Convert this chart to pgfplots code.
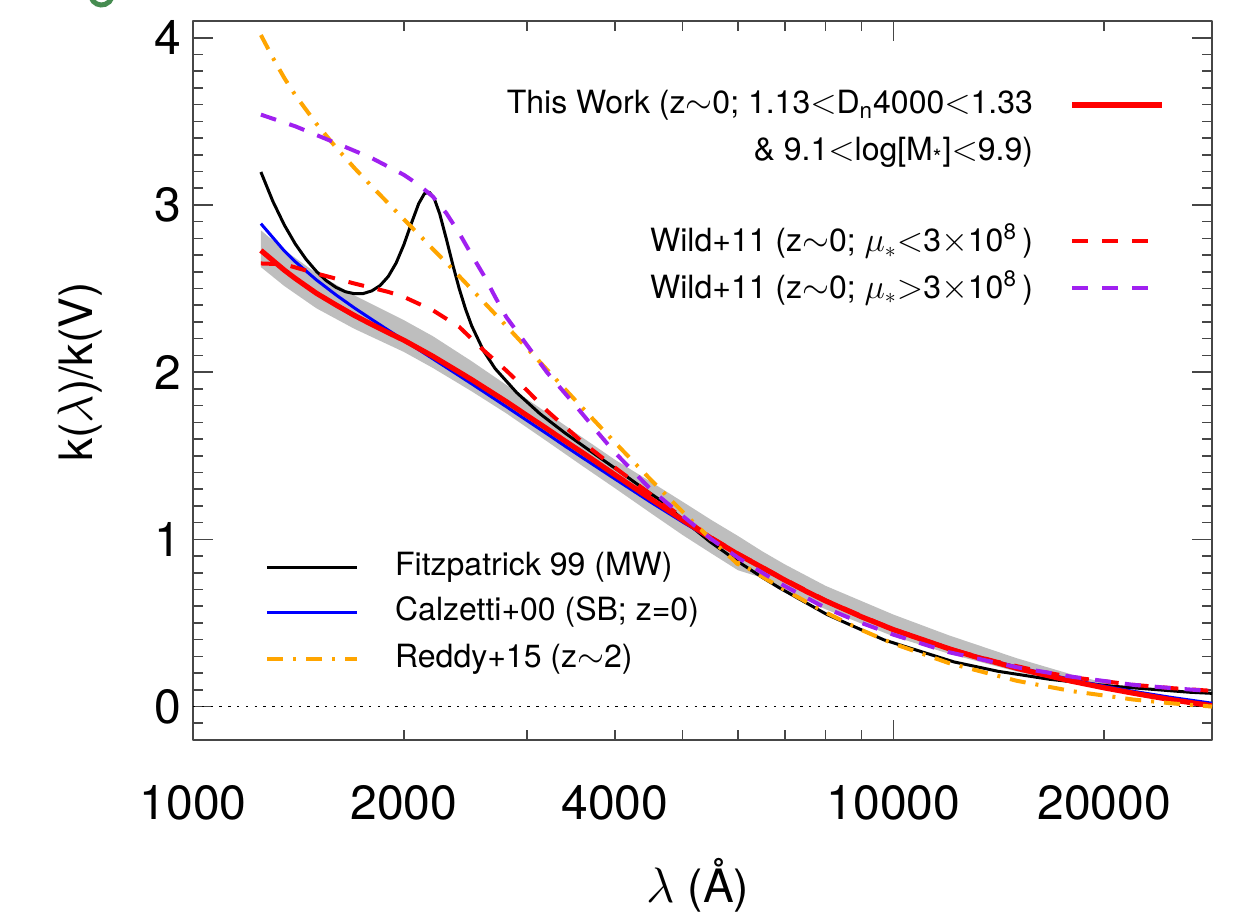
\documentclass[border=0pt]{standalone}
\usepackage{fontspec}
\setmainfont{TeX Gyre Heros}
\usepackage{pgfplots}
\pgfplotsset{compat=1.18}
\definecolor{wpurple}{RGB}{160,32,240}
\definecolor{worange}{RGB}{255,165,0}
\definecolor{bandgray}{RGB}{190,190,190}
\definecolor{axgray}{RGB}{70,70,70}
\definecolor{lblgreen}{RGB}{70,140,80}
\newcommand{\legf}{\fontsize{16}{19}\selectfont}
\begin{document}
\begin{tikzpicture}
\path[use as bounding box] (-96.5pt,-88pt) rectangle (521.5pt,370pt);
\begin{axis}[
  name=ax, at={(0,0)}, anchor=south west,
  scale only axis, width=509.5pt, height=359.5pt,
  xmode=log, xmin=1000, xmax=28500, ymin=-0.2, ymax=4.1,
  axis line style={axgray, line width=1pt},
  every tick/.style={axgray, line width=0.8pt},
  tick align=inside,
  major tick length=10pt, minor tick length=5pt,
  xtick={1000,10000}, xticklabels={1000,10000},
  minor xtick={2000,3000,4000,5000,6000,7000,8000,9000,20000},
  extra x ticks={2000,4000,20000}, extra x tick labels={2000,4000,20000},
  extra x tick style={major tick length=5pt},
  ytick={0,1,2,3,4},
  minor ytick={-0.1,0.1,0.2,0.3,0.4,0.5,0.6,0.7,0.8,0.9,1.1,1.2,1.3,1.4,1.5,1.6,1.7,1.8,1.9,2.1,2.2,2.3,2.4,2.5,2.6,2.7,2.8,2.9,3.1,3.2,3.3,3.4,3.5,3.6,3.7,3.8,3.9,4.1},
  /pgf/number format/assume math mode=true,
  ticklabel style={font=\fontsize{24}{28}\selectfont, black},
  xticklabel style={yshift=-19pt},
  yticklabel style={xshift=-2.5pt},
  ylabel={k($\lambda$)/k(V)},
  ylabel style={at={(axis description cs:-0.1109,0.512)}, anchor=center, font=\fontsize{23}{27}\selectfont},
  xlabel={$\lambda$ (Å)},
  xlabel style={at={(axis description cs:0.4956,-0.2017)}, anchor=center, font=\fontsize{23}{27}\selectfont},
  line join=round,
]
% uncertainty band of This Work
\addplot[fill=bandgray, draw=none] table {
1250 2.848
1350 2.730
1500 2.592
1700 2.459
2000 2.311
2200 2.215
2500 2.065
2800 1.924
3200 1.757
3600 1.608
4000 1.477
4500 1.345
5000 1.225
5500 1.115
6000 1.020
6500 0.928
7000 0.850
8000 0.722
10000 0.550
12000 0.426
15000 0.289
18000 0.191
22000 0.100
28500 0.015
28500 0.000
22000 0.070
18000 0.136
15000 0.209
12000 0.316
10000 0.420
8000 0.582
7000 0.696
6500 0.770
6000 0.815
5500 0.915
5000 1.026
4500 1.158
4000 1.307
3600 1.438
3200 1.587
2800 1.754
2500 1.885
2200 2.025
2000 2.121
1700 2.259
1500 2.382
1350 2.515
1250 2.628
} -- cycle;
% zero line
\addplot[black, line width=0.6pt, dash pattern=on 1.2pt off 3.2pt] coordinates {(1000,0) (28500,0)};
% Fitzpatrick 99
\addplot[black, line width=1.5pt] table {
1250 3.197
1300 3.022
1350 2.880
1400 2.766
1450 2.675
1500 2.603
1550 2.547
1600 2.507
1650 2.481
1700 2.469
1750 2.470
1800 2.486
1850 2.518
1900 2.572
1950 2.653
2000 2.762
2050 2.890
2100 3.008
2140 3.068
2175 3.076
2210 3.038
2250 2.947
2300 2.796
2350 2.639
2400 2.497
2450 2.376
2500 2.276
2600 2.126
2700 2.021
2899 1.877
3129 1.751
3400 1.635
3722 1.518
4110 1.392
4400 1.302
4670 1.228
5000 1.119
5470 0.986
6000 0.867
6500 0.772
6873 0.710
8042 0.550
9690 0.399
12200 0.267
14100 0.211
16710 0.163
20500 0.122
26500 0.0855
28500 0.079
};
% Calzetti+00
\addplot[blue, line width=1.5pt] table {
1250 2.888
1350 2.725
1400 2.660
1500 2.552
1600 2.462
1700 2.384
1800 2.315
1900 2.251
2000 2.191
2200 2.080
2400 1.978
2500 1.930
2800 1.794
3000 1.710
3200 1.632
3400 1.557
3600 1.488
4000 1.362
4500 1.223
5000 1.104
5500 1.000
6000 0.908
6300 0.862
7000 0.756
7500 0.691
8000 0.634
9000 0.540
10000 0.464
12000 0.350
13000 0.306
15000 0.236
18000 0.160
20000 0.122
22000 0.091
25000 0.054
28500 0.020
};
% This Work
\addplot[red, line width=2.6pt] table {
1250 2.728
1350 2.610
1400 2.560
1500 2.472
1600 2.402
1700 2.339
1800 2.285
1900 2.236
2000 2.191
2200 2.095
2400 2.000
2500 1.955
2800 1.824
3000 1.740
3200 1.662
3400 1.587
3600 1.518
4000 1.387
4500 1.243
5000 1.116
5500 1.005
6000 0.910
6300 0.862
7000 0.756
7500 0.690
8000 0.632
9000 0.537
10000 0.460
12000 0.346
13000 0.301
15000 0.229
18000 0.151
20000 0.112
22000 0.080
25000 0.040
28500 0.005
};
% Reddy+15
\addplot[worange, line width=2pt, dash pattern=on 8pt off 5pt on 1.5pt off 5pt] table {
1250 4.016
1300 3.880
1350 3.759
1400 3.656
1500 3.486
1600 3.344
1700 3.221
1800 3.111
1900 3.010
2000 2.914
2100 2.824
2200 2.736
2300 2.654
2500 2.495
2650 2.383
2800 2.277
3000 2.142
3200 2.016
3500 1.840
3750 1.706
4000 1.581
4250 1.466
4500 1.358
5000 1.165
5500 0.997
6000 0.850
6010 0.862
6500 0.776
7000 0.697
8000 0.563
9000 0.458
10000 0.376
12000 0.260
15000 0.154
18000 0.092
22000 0.042
25000 0.019
28500 0.000
};
% Wild+11 low mu
\addplot[red, line width=2pt, dash pattern=on 8pt off 7pt] table {
1250 2.650
1350 2.645
1500 2.590
1700 2.530
1900 2.480
2000 2.450
2200 2.370
2400 2.270
2600 2.130
2800 2.010
3000 1.890
3200 1.770
3600 1.580
4000 1.430
4500 1.270
5000 1.130
5500 1.010
6000 0.915
7000 0.760
8000 0.635
10000 0.460
12000 0.345
14000 0.270
16000 0.215
18000 0.175
22000 0.130
25000 0.110
28500 0.094
};
% Wild+11 high mu
\addplot[wpurple, line width=2pt, dash pattern=on 8pt off 7pt] table {
1250 3.540
1400 3.470
1600 3.370
1800 3.280
2000 3.180
2100 3.120
2200 3.050
2300 2.950
2400 2.830
2500 2.700
2600 2.580
2700 2.450
2800 2.330
3000 2.160
3200 2.000
3500 1.810
3800 1.630
4000 1.520
4500 1.300
5000 1.140
5500 1.000
6000 0.890
6500 0.800
7000 0.720
8000 0.590
9000 0.500
10000 0.430
12000 0.325
15000 0.235
18000 0.178
22000 0.130
25000 0.110
28500 0.092
};
% upper-right key
\node[anchor=east, font=\legf] at (axis description cs:0.8312,0.8832) {This Work (z$\sim$0; 1.13$<$D\textsubscript{n}4000$<$1.33};
\node[anchor=east, font=\legf] at (axis description cs:0.8312,0.8178) {\& 9.1$<$log[M\textsubscript{*}]$<$9.9)};
\draw[red, line width=2.6pt] (axis description cs:0.8626,0.8832) -- (axis description cs:0.9509,0.8832);
\node[anchor=east, font=\legf] at (axis description cs:0.8312,0.6940) {Wild+11 (z$\sim$0; $\mu_*$$<$3$\times$10\textsuperscript{8}\,)};
\draw[red, line width=2pt, dash pattern=on 8pt off 7pt] (axis description cs:0.8626,0.6940) -- (axis description cs:0.9470,0.6940);
\node[anchor=east, font=\legf] at (axis description cs:0.8312,0.6287) {Wild+11 (z$\sim$0; $\mu_*$$>$3$\times$10\textsuperscript{8}\,)};
\draw[wpurple, line width=2pt, dash pattern=on 8pt off 7pt] (axis description cs:0.8626,0.6287) -- (axis description cs:0.9470,0.6287);
% lower-left key
\draw[black, line width=1.5pt] (axis description cs:0.0726,0.2406) -- (axis description cs:0.1609,0.2406);
\node[anchor=west, font=\legf] at (axis description cs:0.1914,0.2406) {Fitzpatrick 99 (MW)};
\draw[blue, line width=1.5pt] (axis description cs:0.0726,0.1780) -- (axis description cs:0.1609,0.1780);
\node[anchor=west, font=\legf] at (axis description cs:0.1914,0.1780) {Calzetti+00 (SB; z=0)};
\draw[worange, line width=2pt, dash pattern=on 8pt off 5pt on 1.5pt off 5pt] (axis description cs:0.0726,0.1127) -- (axis description cs:0.1609,0.1127);
\node[anchor=west, font=\legf] at (axis description cs:0.1914,0.1127) {Reddy+15 (z$\sim$2)};
\end{axis}
% cropped fragment of a panel letter at the top-left edge
\draw[lblgreen, line width=2.5pt] (-50.92pt,371.12pt) arc[start angle=200, end angle=340, radius=5.5pt];
\end{tikzpicture}
\end{document}
